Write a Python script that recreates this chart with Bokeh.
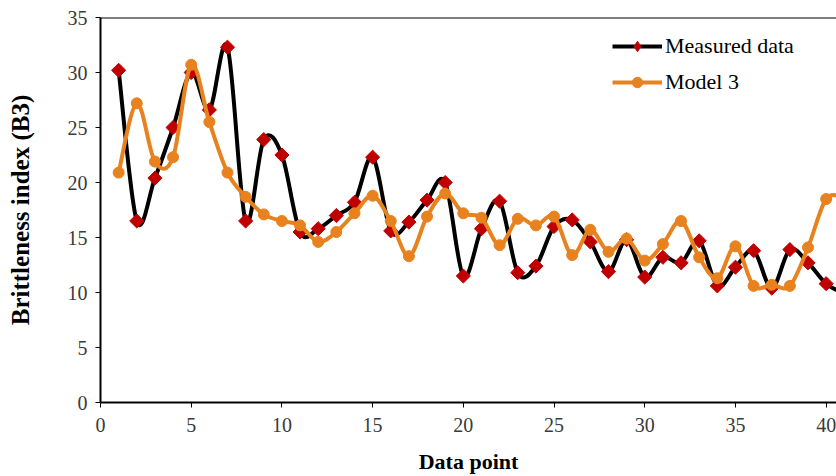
import numpy as np
from bokeh.plotting import figure
from bokeh.models import Range1d, Span, Legend, LegendItem, FixedTicker
from bokeh.embed import file_html
from bokeh.resources import INLINE

data_point = list(range(1, 42))
measured = [30.2, 16.5, 20.4, 25.0, 30.0, 26.6, 32.3, 16.5, 23.9, 22.5,
            15.5, 15.8, 17.0, 18.2, 22.3, 15.6, 16.4, 18.4, 20.0, 11.5,
            15.8, 18.3, 11.8, 12.4, 16.0, 16.6, 14.6, 11.9, 14.8, 11.4,
            13.2, 12.7, 14.7, 10.6, 12.3, 13.8, 10.4, 13.9, 12.7, 10.8, 9.9]
model3 = [20.9, 27.2, 21.9, 22.3, 30.7, 25.5, 20.9, 18.7, 17.1, 16.5,
          16.1, 14.6, 15.5, 17.2, 18.8, 16.5, 13.3, 16.9, 19.0, 17.2,
          16.8, 14.3, 16.7, 16.1, 16.9, 13.4, 15.7, 13.7, 14.9, 12.9,
          14.4, 16.5, 13.2, 11.3, 14.2, 10.6, 10.7, 10.6, 14.1, 18.5, 18.6]
x_ticks = [0, 5, 10, 15, 20, 25, 30, 35, 40]
y_ticks = [0, 5, 10, 15, 20, 25, 30, 35]

FONT = "Liberation Serif"
RED = "#C00000"
ORANGE = "#E8821E"


def smooth_segments(xs, ys):
    xs = np.asarray(xs, float)
    ys = np.asarray(ys, float)
    n = len(xs)
    seg = dict(x0=[], y0=[], x1=[], y1=[], cx0=[], cy0=[], cx1=[], cy1=[])
    for i in range(n - 1):
        i0 = max(i - 1, 0)
        i3 = min(i + 2, n - 1)
        seg["x0"].append(xs[i]); seg["y0"].append(ys[i])
        seg["x1"].append(xs[i + 1]); seg["y1"].append(ys[i + 1])
        seg["cx0"].append(xs[i] + (xs[i + 1] - xs[i0]) / 6)
        seg["cy0"].append(ys[i] + (ys[i + 1] - ys[i0]) / 6)
        seg["cx1"].append(xs[i + 1] - (xs[i3] - xs[i]) / 6)
        seg["cy1"].append(ys[i + 1] - (ys[i3] - ys[i]) / 6)
    return seg


p = figure(width=836, height=476, output_backend="svg", toolbar_location=None,
           x_range=Range1d(0, 40.57), y_range=Range1d(0, 35),
           min_border_left=100, min_border_right=0, min_border_top=17,
           min_border_bottom=73)
p.outline_line_color = None
p.grid.visible = False
p.background_fill_color = "white"
p.border_fill_color = "white"

# measured data
p.bezier(line_color="black", line_width=4, line_cap="round",
         **smooth_segments(data_point, measured))
p.scatter(data_point, measured, marker="square", angle=np.pi / 4, size=10,
          fill_color=RED, line_color=RED)
# model 3
p.bezier(line_color=ORANGE, line_width=4, line_cap="round",
         **smooth_segments(data_point, model3))
mark2 = p.scatter(data_point, model3, marker="circle", size=11,
                  fill_color=ORANGE, line_color=ORANGE)

p.add_layout(Span(location=35, dimension="width", line_color="black", line_width=2))

# axes
for ax in (p.xaxis[0], p.yaxis[0]):
    ax.axis_line_color = "black"
    ax.axis_line_width = 2
    ax.major_tick_line_color = "black"
    ax.major_tick_line_width = 1
    ax.major_tick_out = 5
    ax.major_tick_in = 0
    ax.minor_tick_line_color = None
    ax.major_label_text_font = FONT
    ax.major_label_text_font_size = "20px"
    ax.major_label_text_color = "#3a3a3a"
    ax.axis_label_text_font = FONT
    ax.axis_label_text_font_style = "bold"
    ax.axis_label_text_color = "black"

p.xaxis.ticker = FixedTicker(ticks=x_ticks)
p.yaxis.ticker = FixedTicker(ticks=y_ticks)
p.xaxis.axis_label = "Data point"
p.yaxis.axis_label = "Brittleness index (B3)"
p.xaxis.axis_label_text_font_size = "22px"
p.yaxis.axis_label_text_font_size = "25px"
p.xaxis.major_label_standoff = 10
p.yaxis.major_label_standoff = 8
p.xaxis.axis_label_standoff = 14
p.yaxis.axis_label_standoff = 31

# legend proxies (no visible data)
lg_line1 = p.line([np.nan], [np.nan], line_color="black", line_width=4)
lg_mark1 = p.scatter([np.nan], [np.nan], marker="diamond", size=15,
                     fill_color=RED, line_color=RED)
lg_line2 = p.line([np.nan], [np.nan], line_color=ORANGE, line_width=4)
legend = Legend(items=[LegendItem(label="Measured data", renderers=[lg_line1, lg_mark1]),
                       LegendItem(label="Model 3", renderers=[lg_line2, mark2])],
                location=(512, 307))
legend.border_line_color = None
legend.background_fill_alpha = 0
legend.label_text_font = FONT
legend.label_text_font_size = "22px"
legend.label_text_color = "black"
legend.glyph_width = 50
legend.glyph_height = 26
legend.label_height = 26
legend.spacing = 10
legend.padding = 0
legend.margin = 0
legend.label_standoff = 3
p.add_layout(legend)

open("out.html", "w").write(file_html(p, INLINE))
